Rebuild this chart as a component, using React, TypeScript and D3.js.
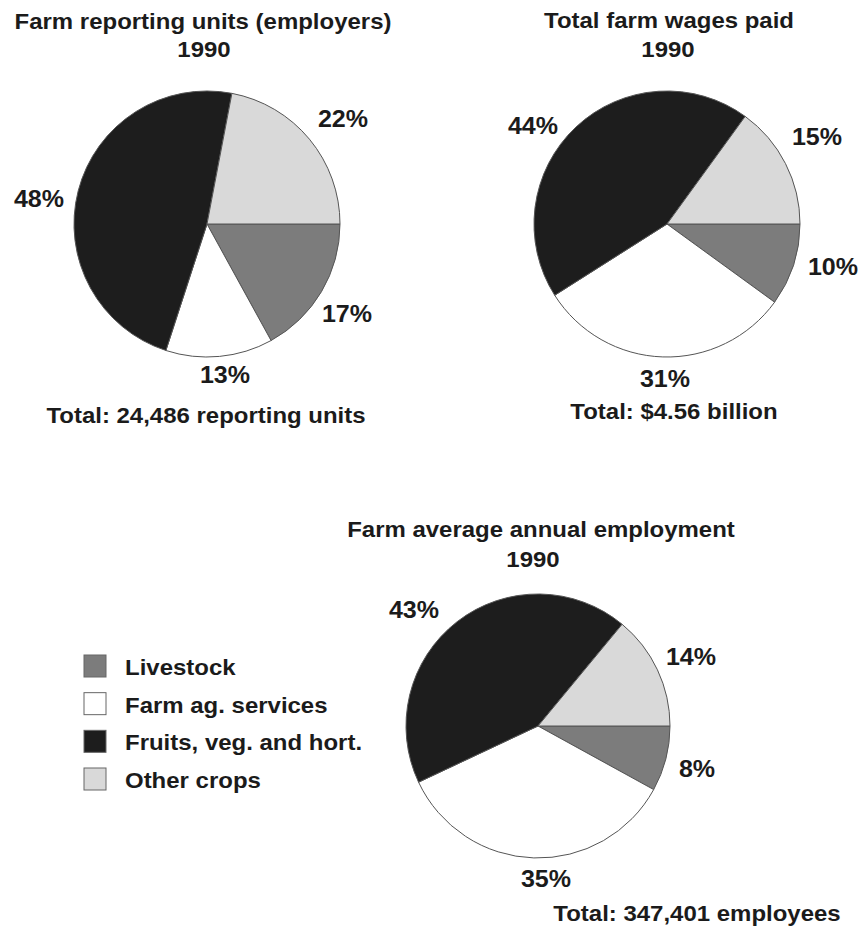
import React from "react";
import * as d3 from "d3";

const categories = ["Livestock", "Farm ag. services", "Fruits, veg. and hort.", "Other crops"];
const colors = ["#7c7c7c", "#ffffff", "#1d1d1d", "#d9d9d9"];

const unitsValues = [17, 13, 48, 22];
const wagesValues = [10, 31, 44, 15];
const employmentValues = [8, 35, 43, 14];

const titles = [
  ["Farm reporting units (employers)", "1990"],
  ["Total farm wages paid", "1990"],
  ["Farm average annual employment", "1990"],
];
const totals = ["Total: 24,486 reporting units", "Total: $4.56 billion", "Total: 347,401 employees"];

const FONT = "'Liberation Sans', Arial, Helvetica, sans-serif";
const INK = "#1b1b1b";
const SX = 1.09;

function T({ x, y, text, size = 22, anchor = "middle" }: { x: number; y: number; text: string; size?: number; anchor?: string }) {
  return (
    <text
      transform={`translate(${x},${y}) scale(${SX},1)`}
      textAnchor={anchor as any}
      fontFamily={FONT}
      fontWeight="bold"
      fontSize={size}
      fill={INK}
    >
      {text}
    </text>
  );
}

type PieSpec = {
  values: number[];
  cx: number;
  cy: number;
  r: number;
  labelPos: [number, number][];
  titleY: [number, number];
  titleX: [number, number];
  totalPos: [number, number];
  idx: number;
};

function Pie({ spec }: { spec: PieSpec }) {
  const pie = d3
    .pie<number>()
    .sort(null)
    .value((d) => d)
    .startAngle(Math.PI / 2)
    .endAngle(Math.PI / 2 + 2 * Math.PI);
  const arcs = pie(spec.values);
  const arc = d3.arc<d3.PieArcDatum<number>>().innerRadius(0).outerRadius(spec.r);
  return (
    <g>
      <T x={spec.titleX[0]} y={spec.titleY[0]} text={titles[spec.idx][0]} />
      <T x={spec.titleX[1]} y={spec.titleY[1]} text={titles[spec.idx][1]} />
      <g transform={`translate(${spec.cx},${spec.cy})`}>
        {arcs.map((a, i) => (
          <path key={i} d={arc(a) || ""} fill={colors[i]} stroke="#555" strokeWidth={1} strokeLinejoin="round" />
        ))}
      </g>
      {arcs.map((a, i) => (
        <T key={i} x={spec.labelPos[i][0]} y={spec.labelPos[i][1]} text={`${a.data}%`} size={23} />
      ))}
      <T x={spec.totalPos[0]} y={spec.totalPos[1]} text={totals[spec.idx]} />
    </g>
  );
}

const specs: PieSpec[] = [
  {
    values: unitsValues,
    cx: 207,
    cy: 224,
    r: 133,
    labelPos: [
      [347, 322],
      [225, 383],
      [39, 207],
      [343, 127],
    ],
    titleX: [203, 204],
    titleY: [29, 57],
    totalPos: [206, 423],
    idx: 0,
  },
  {
    values: wagesValues,
    cx: 667,
    cy: 224,
    r: 133,
    labelPos: [
      [833, 275],
      [665, 387],
      [533, 134],
      [817, 145],
    ],
    titleX: [669, 668],
    titleY: [28, 57],
    totalPos: [674, 419],
    idx: 1,
  },
  {
    values: employmentValues,
    cx: 538,
    cy: 726,
    r: 132,
    labelPos: [
      [697, 777],
      [546, 887],
      [414, 618],
      [691, 665],
    ],
    titleX: [541, 533],
    titleY: [537, 567],
    totalPos: [697, 921],
    idx: 2,
  },
];

export default function App() {
  const legendY = d3.scaleLinear().domain([0, 3]).range([655, 768]);
  return (
    <svg
      width={858}
      height={928}
      style={{ position: "absolute", left: 0, top: 0, display: "block", background: "#fff" }}
    >
      <rect width={858} height={928} fill="#fff" />
      {specs.map((s, i) => (
        <Pie key={i} spec={s} />
      ))}
      {categories.map((c, i) => (
        <g key={c}>
          <rect x={84} y={legendY(i)} width={22} height={22} fill={colors[i]} stroke="#666" strokeWidth={1} />
          <T x={125} y={legendY(i) + 20} text={c} anchor="start" />
        </g>
      ))}
    </svg>
  );
}
